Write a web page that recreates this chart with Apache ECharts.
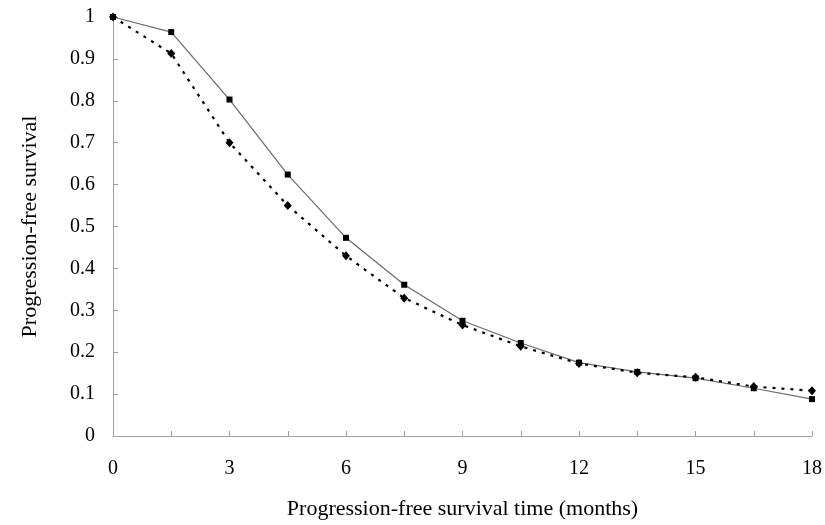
<!DOCTYPE html>
<html>
<head>
<meta charset="utf-8">
<script src="https://cdn.jsdelivr.net/npm/echarts@6/dist/echarts.min.js"></script>
<style>html,body{margin:0;padding:0;background:#fff}#c{width:825px;height:525px}</style>
</head>
<body>
<div id="c"></div>
<script>
var months = [0, 1.5, 3, 4.5, 6, 7.5, 9, 10.5, 12, 13.5, 15, 16.5, 18];
var solidSeries = [1.0, 0.964, 0.803, 0.624, 0.473, 0.361, 0.275, 0.222, 0.175, 0.153, 0.138, 0.114, 0.088];
var dottedSeries = [1.0, 0.913, 0.700, 0.550, 0.430, 0.329, 0.265, 0.214, 0.173, 0.151, 0.140, 0.118, 0.108];
var xTitle = 'Progression-free survival time (months)';
var yTitle = 'Progression-free survival';

function pairs(xs, ys) { return xs.map(function (x, i) { return [x, ys[i]]; }); }

var font = '"Liberation Serif", "Times New Roman", serif';
var chart = echarts.init(document.getElementById('c'));
chart.setOption({
  animation: false,
  backgroundColor: '#fff',
  grid: { left: 113, right: 9, top: 17, bottom: 83, containLabel: false },
  xAxis: {
    type: 'value', min: 0, max: 18, interval: 1.5,
    name: xTitle, nameLocation: 'middle', nameGap: 62,
    nameTextStyle: { fontFamily: font, fontSize: 22, color: '#000' },
    axisLine: { show: true, lineStyle: { color: '#a0a0a0', width: 1 } },
    axisTick: { show: true, inside: true, length: 5, lineStyle: { color: '#a0a0a0' } },
    axisLabel: {
      fontFamily: font, fontSize: 20, color: '#000', margin: 23,
      formatter: function (v) { return (Math.abs(v % 3) < 1e-9) ? String(v) : ''; }
    },
    splitLine: { show: false }
  },
  yAxis: {
    type: 'value', min: 0, max: 1, interval: 0.1,
    name: yTitle, nameLocation: 'middle', nameGap: 72, nameRotate: 90,
    nameTextStyle: { fontFamily: font, fontSize: 22, color: '#000' },
    axisLine: { show: true, lineStyle: { color: '#a0a0a0', width: 1 } },
    axisTick: { show: true, inside: true, length: 5, lineStyle: { color: '#a0a0a0' } },
    axisLabel: {
      fontFamily: font, fontSize: 20, color: '#000', margin: 18,
      formatter: function (v) { return String(parseFloat(v.toFixed(1))); }
    },
    splitLine: { show: false }
  },
  series: [
    {
      type: 'line', data: pairs(months, solidSeries),
      symbol: 'rect', symbolSize: 6, showAllSymbol: true,
      lineStyle: { color: '#6a6a6a', width: 1.2, type: 'solid' },
      itemStyle: { color: '#000' }, z: 2
    },
    {
      type: 'line', data: pairs(months, dottedSeries),
      symbol: 'diamond', symbolSize: [8, 9], showAllSymbol: true,
      lineStyle: { color: '#000', width: 2.2, type: [3, 6] },
      itemStyle: { color: '#000' }, z: 3
    }
  ]
});
</script>
</body>
</html>
